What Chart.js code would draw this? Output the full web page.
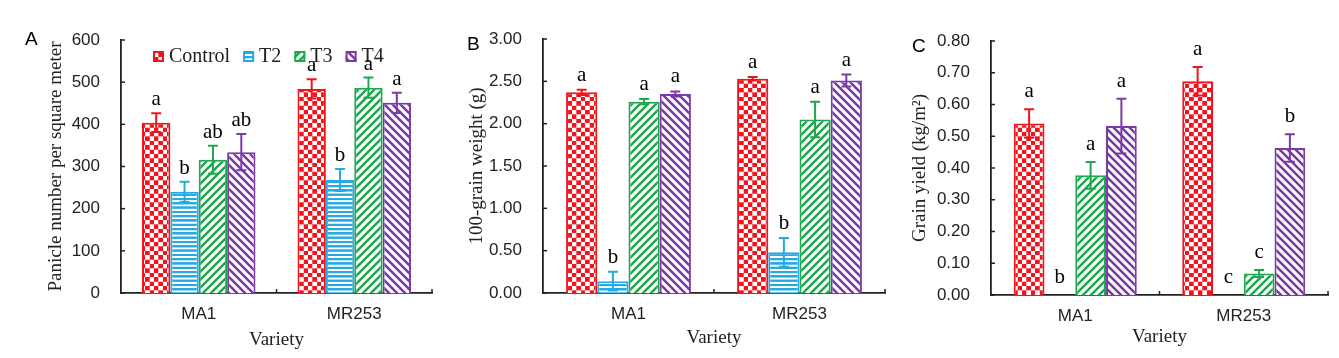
<!DOCTYPE html>
<html>
<head>
<meta charset="utf-8">
<script src="https://cdn.jsdelivr.net/npm/chart.js@4.4.1/dist/chart.umd.min.js"></script>
<style>
    body { margin: 0; background: #fff; width: 1339px; height: 358px; position: relative; overflow: hidden; }
    canvas { position: absolute; top: 0; }
</style>
</head>
<body>
<canvas id="chartA" width="440" height="358" style="left:0px"></canvas>
<canvas id="chartB" width="450" height="358" style="left:440px"></canvas>
<canvas id="chartC" width="449" height="358" style="left:890px"></canvas>
<script>
// categories and series
const varieties = ['MA1', 'MR253'];
const treatments = ['Control', 'T2', 'T3', 'T4'];

// A: panicle number per square meter (rows = treatments, cols = varieties)
const panicleMean = [[404, 484], [240, 268], [316, 487], [334, 451]];
const panicleErr = [[22, 23], [24, 26], [33, 24], [43, 24]];
const panicleLetters = [['a', 'a'], ['b', 'b'], ['ab', 'a'], ['ab', 'a']];
const panicleTicks = [0, 600, 100];

// B: 100-grain weight (g)
const weightMean = [[2.37, 2.53], [0.14, 0.48], [2.26, 2.05], [2.35, 2.51]];
const weightErr = [[0.03, 0.02], [0.11, 0.17], [0.03, 0.21], [0.03, 0.07]];
const weightLetters = [['a', 'a'], ['b', 'b'], ['a', 'a'], ['a', 'a']];
const weightTicks = [0, 3, 0.5];

// C: grain yield (kg/m2)
const yieldMean = [[0.54, 0.673], [0, 0], [0.377, 0.068], [0.532, 0.463]];
const yieldErr = [[0.045, 0.045], [0, 0], [0.042, 0.011], [0.086, 0.043]];
const yieldLetters = [['a', 'a'], ['b', 'c'], ['a', 'c'], ['a', 'b']];
const yieldTicks = [0, 0.8, 0.1];

const colors = ['#f2141c', '#27a9e1', '#21a650', '#7b3aa6'];
const patternKinds = ['check', 'hline', 'up', 'down'];
const AXIS = '#222';

function makePattern(kind, color) {
    const c = document.createElement('canvas');
    c.width = c.height = 20;
    const g = c.getContext('2d');
    g.fillStyle = '#fff';
    g.fillRect(0, 0, 20, 20);
    g.fillStyle = color;
    g.strokeStyle = color;
    let sc = 0.44;
    if (kind === 'check') {
        g.fillRect(0, 0, 10, 10);
        g.fillRect(10, 10, 10, 10);
    } else if (kind === 'hline') {
        g.fillRect(0, 0, 20, 5.5);
        g.fillRect(0, 10, 20, 5.5);
        sc = 0.43;
    } else {
        g.lineWidth = 6.5;
        const segs = kind === 'up'
            ? [[-5, 5, 5, -5], [0, 20, 20, 0], [15, 25, 25, 15]]
            : [[-5, 15, 5, 25], [0, 0, 20, 20], [15, -5, 25, 5]];
        segs.forEach(s => { g.beginPath(); g.moveTo(s[0], s[1]); g.lineTo(s[2], s[3]); g.stroke(); });
        sc = 0.4;
    }
    const p = g.createPattern(c, 'repeat');
    p.setTransform(new DOMMatrix().scale(sc));
    return p;
}

const extras = {
    id: 'extras',
    afterDraw(chart, args, opts) {
        const ctx = chart.ctx;
        const xs = chart.scales.x, ys = chart.scales.y, area = chart.chartArea;
        ctx.save();
        // inward tick marks
        ctx.strokeStyle = AXIS;
        ctx.lineWidth = 1.5;
        ys.ticks.forEach((t, i) => {
            const py = ys.getPixelForTick(i);
            ctx.beginPath(); ctx.moveTo(area.left, py); ctx.lineTo(area.left + 4, py); ctx.stroke();
        });
        const n = xs.ticks.length;
        for (let k = 1; k <= n; k++) {
            const px = xs.left + k * xs.width / n;
            ctx.beginPath(); ctx.moveTo(px, area.bottom); ctx.lineTo(px, area.bottom - 4); ctx.stroke();
        }
        // error bars + letters
        chart.data.datasets.forEach((ds, i) => {
            chart.getDatasetMeta(i).data.forEach((bar, j) => {
                const m = ds.data[j], e = ds.errs[j];
                const top = ys.getPixelForValue(m + e), bot = ys.getPixelForValue(m - e);
                if (e > 0) {
                    ctx.strokeStyle = ds.borderColor;
                    ctx.lineWidth = 2;
                    ctx.beginPath();
                    ctx.moveTo(bar.x, top); ctx.lineTo(bar.x, bot);
                    ctx.moveTo(bar.x - 5, top); ctx.lineTo(bar.x + 5, top);
                    ctx.moveTo(bar.x - 5, bot); ctx.lineTo(bar.x + 5, bot);
                    ctx.stroke();
                }
                ctx.fillStyle = '#000';
                ctx.font = '21px "Liberation Serif"';
                ctx.textAlign = 'center';
                ctx.textBaseline = 'alphabetic';
                ctx.fillText(ds.letters[j], bar.x, top - opts.gap);
            });
        });
        // legend
        if (opts.legend) {
            ctx.font = '20px "Liberation Serif"';
            ctx.textAlign = 'left';
            let lx = area.left + 32;
            chart.data.datasets.forEach(ds => {
                ctx.fillStyle = ds.backgroundColor;
                ctx.fillRect(lx, 51, 11, 11);
                ctx.strokeStyle = ds.borderColor;
                ctx.lineWidth = 2;
                ctx.strokeRect(lx + 1, 52, 9, 9);
                ctx.fillStyle = AXIS;
                ctx.fillText(ds.label, lx + 16, 62);
                lx += 16 + ctx.measureText(ds.label).width + 13;
            });
        }
        // panel tag
        ctx.font = '19px "Liberation Sans"';
        ctx.textAlign = 'left';
        ctx.fillStyle = '#000';
        ctx.fillText(opts.tag, opts.tagX, opts.tagY);
        ctx.restore();
    }
};

function buildChart(id, p) {
    const datasets = treatments.map((t, i) => ({
        label: t,
        data: p.mean[i],
        errs: p.err[i],
        letters: p.letters[i],
        backgroundColor: makePattern(patternKinds[i], colors[i]),
        borderColor: colors[i],
        borderWidth: 2
    }));
    return new Chart(document.getElementById(id), {
        type: 'bar',
        data: { labels: varieties, datasets: datasets },
        plugins: [extras],
        options: {
            responsive: false,
            animation: false,
            categoryPercentage: 0.73,
            barPercentage: 1.0,
            layout: { padding: { left: 0, right: p.right, top: p.top, bottom: 0 } },
            plugins: {
                legend: { display: false },
                tooltip: { enabled: false },
                extras: { tag: p.tag, tagX: p.tagX, tagY: p.tagY, gap: p.gap, legend: p.legend }
            },
            scales: {
                x: {
                    grid: { display: false, drawTicks: false },
                    border: { color: AXIS, width: 1.8 },
                    ticks: { color: AXIS, padding: 11, font: { family: 'Liberation Sans', size: 17 } },
                    title: {
                        display: true, text: 'Variety', color: AXIS,
                        font: { family: 'Liberation Serif', size: 19 },
                        padding: { top: 0, bottom: p.xTitlePad }
                    },
                    afterFit: s => { s.height = 358 - p.bottom; }
                },
                y: {
                    min: p.ticks[0], max: p.ticks[1],
                    grid: { display: false, drawTicks: false },
                    border: { color: AXIS, width: 1.8 },
                    ticks: {
                        stepSize: p.ticks[2], color: AXIS, padding: 21,
                        font: { family: 'Liberation Sans', size: 17 },
                        callback: v => Number(v).toFixed(p.decimals)
                    },
                    title: {
                        display: true, text: p.yTitle, color: AXIS,
                        font: { family: 'Liberation Serif', size: 19 },
                        padding: { top: p.yTitlePad, bottom: 0 }
                    },
                    afterFit: s => { s.width = p.left; }
                }
            }
        }
    });
}

buildChart('chartA', {
    mean: panicleMean, err: panicleErr, letters: panicleLetters, ticks: panicleTicks, decimals: 0,
    yTitle: 'Panicle number per square meter', tag: 'A', tagX: 25, tagY: 45, gap: 8, legend: true,
    left: 121, right: 8, top: 40, bottom: 293, yTitlePad: 45, xTitlePad: 6.6
});
buildChart('chartB', {
    mean: weightMean, err: weightErr, letters: weightLetters, ticks: weightTicks, decimals: 2,
    yTitle: '100-grain weight (g)', tag: 'B', tagX: 27, tagY: 50, gap: 9, legend: false,
    left: 103, right: 5, top: 39, bottom: 293, yTitlePad: 25.5, xTitlePad: 8.6
});
buildChart('chartC', {
    mean: yieldMean, err: yieldErr, letters: yieldLetters, ticks: yieldTicks, decimals: 2,
    yTitle: 'Grain yield (kg/m²)', tag: 'C', tagX: 22, tagY: 52, gap: 12, legend: false,
    left: 101, right: 11, top: 41, bottom: 295, yTitlePad: 18.5, xTitlePad: 9.6
});
</script>
</body>
</html>
